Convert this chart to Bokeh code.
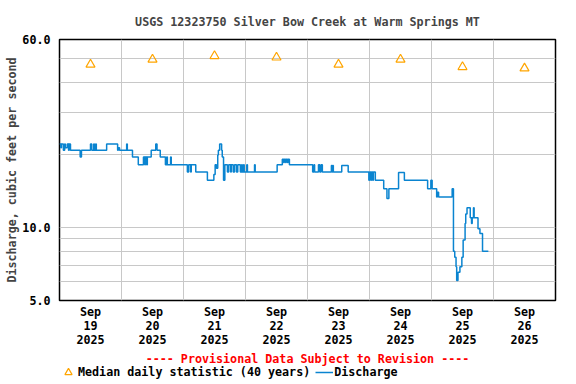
from bokeh.plotting import figure
from bokeh.layouts import column
from bokeh.models import (FixedTicker, NumeralTickFormatter, Legend, LegendItem, Label, ColumnDataSource)
from bokeh.embed import file_html
from bokeh.resources import INLINE

# ---- data ----
# hours since 2025-09-19 00:00
tick_hours = [12, 36, 60, 84, 108, 132, 156, 180]
tick_labels = ["Sep\n19\n2025", "Sep\n20\n2025", "Sep\n21\n2025", "Sep\n22\n2025",
               "Sep\n23\n2025", "Sep\n24\n2025", "Sep\n25\n2025", "Sep\n26\n2025"]
day_lines = [24, 48, 72, 96, 120, 144, 168]
y_ticks = [5, 10, 60]
y_grid = [6, 7, 8, 9, 10, 20, 30, 40, 50]

median_hours = [12, 36, 60, 84, 108, 132, 156, 180]
median_cfs = [47.3, 49.6, 51.3, 50.6, 47.3, 49.6, 46.2, 45.6]

q_hours = [0, 0.5, 0.75, 1.5, 2.0, 2.25, 3.0, 3.5, 3.75, 4.25, 8.0, 8.5, 12.0, 12.5, 13.25, 13.5,
           14.0, 14.25, 18.25, 22.5, 22.75, 23.25, 26.0, 26.25, 28.25, 30.5, 32.5, 33.0, 33.25,
           33.75, 34.0, 35.5, 37.25, 37.75, 39.0, 41.0, 41.5, 41.75, 43.0, 43.25, 49.5, 50.0,
           50.75, 51.0, 52.75, 57.25, 59.75, 60.25, 60.75, 61.25, 61.5, 62.0, 62.75, 63.0, 63.5,
           64.0, 65.0, 65.5, 66.25, 66.5, 67.25, 67.75, 68.5, 69.0, 70.0, 70.5, 70.75, 71.25,
           71.5, 72.5, 72.75, 75.5, 75.75, 84.25, 86.25, 86.75, 87.0, 87.5, 87.75, 88.25, 88.5,
           89.0, 98.0, 98.5, 98.75, 100.25, 100.75, 101.25, 101.75, 105.25, 105.5, 105.75, 106.0,
           109.25, 111.75, 119.75, 120.0, 120.5, 120.75, 121.25, 121.5, 122.25, 125.5, 126.75,
           127.5, 131.25, 133.5, 142.5, 143.75, 144.25, 146.0, 146.25, 146.75, 152.0, 152.5,
           153.0, 153.5, 153.75, 154.25, 155.0, 155.75, 156.25, 157.0, 157.25, 157.75, 159.0,
           159.5, 159.75, 160.25, 160.5, 162.0, 162.75, 163.75, 166.0]
q_cfs = [22.2, 21.4, 22.2, 20.9, 22.2, 21.4, 22.2, 20.9, 22.2, 20.9, 19.6, 20.9, 22.2, 20.9, 22.2,
         20.9, 22.2, 20.9, 22.2, 20.9, 21.4, 20.9, 22.2, 20.9, 19.6, 18.2, 19.6, 18.2, 19.6, 18.2,
         19.6, 20.9, 22.2, 20.9, 19.6, 18.2, 19.6, 18.2, 19.6, 18.2, 17.0, 18.2, 17.0, 18.2, 17.0,
         15.7, 16.6, 18.2, 17.6, 20.0, 20.9, 22.2, 20.9, 19.6, 15.7, 18.2, 17.0, 18.2, 17.0, 18.2,
         17.0, 18.2, 17.0, 18.2, 17.0, 18.2, 17.0, 18.2, 17.0, 18.2, 17.0, 18.2, 17.0, 18.2, 19.2,
         18.6, 19.2, 18.6, 19.2, 18.6, 19.2, 18.2, 17.0, 18.2, 17.0, 18.2, 17.0, 18.2, 17.0, 18.1,
         17.0, 18.1, 17.0, 18.1, 17.0, 15.7, 17.0, 15.7, 17.0, 15.7, 17.0, 15.7, 14.5, 13.2, 14.5,
         16.9, 15.7, 14.5, 15.7, 14.5, 13.4, 14.0, 13.4, 14.5, 8.0, 7.55, 6.9, 6.05, 6.55, 6.9,
         7.55, 8.9, 10.4, 11.4, 12.1, 11.0, 10.4, 11.0, 12.1, 11.0, 9.9, 9.46, 8.0, 8.0]

FONT = "DejaVu Sans Mono"
FS = "11.7px"
Q_COLOR = "#0a84d0"
M_COLOR = "#ffa500"

# ---- main chart ----
p = figure(frame_width=496, frame_height=261, x_range=(0, 192), y_range=(5, 60), y_axis_type="log",
           output_backend="svg", toolbar_location=None,
           min_border_left=59, min_border_right=21, min_border_top=39, min_border_bottom=51)
p.background_fill_color = "white"
p.border_fill_color = "white"
p.outline_line_color = "black"
p.outline_line_width = 1.5

p.title.text = "USGS 12323750 Silver Bow Creek at Warm Springs MT"
p.title.align = "center"
p.title.text_font = FONT
p.title.text_font_size = FS
p.title.text_font_style = "bold"
p.title.standoff = 22

xa = p.xaxis[0]
xa.ticker = FixedTicker(ticks=tick_hours)
xa.major_label_overrides = {h: lab for h, lab in zip(tick_hours, tick_labels)}
xa.major_tick_line_color = None
xa.minor_tick_line_color = None
xa.axis_line_color = None
xa.major_tick_out = 0
xa.major_label_standoff = 4
xa.major_label_text_font = FONT
xa.major_label_text_font_size = FS
xa.major_label_text_font_style = "bold"
xa.major_label_text_color = "black"
xa.major_label_text_line_height = 1.0

ya = p.yaxis[0]
ya.ticker = FixedTicker(ticks=y_ticks)
ya.formatter = NumeralTickFormatter(format="0.0")
ya.major_tick_line_color = None
ya.minor_tick_line_color = None
ya.axis_line_color = None
ya.major_tick_out = 0
ya.major_label_standoff = 9
ya.major_label_text_font = FONT
ya.major_label_text_font_size = FS
ya.major_label_text_font_style = "bold"
ya.major_label_text_color = "black"
ya.axis_label = "Discharge, cubic feet per second"
ya.axis_label_text_font = FONT
ya.axis_label_text_font_size = FS
ya.axis_label_text_font_style = "bold"
ya.axis_label_standoff = 0

p.xgrid.ticker = FixedTicker(ticks=day_lines)
p.ygrid.ticker = FixedTicker(ticks=y_grid)
for g in (p.xgrid[0], p.ygrid[0]):
    g.grid_line_color = "#c8c8c8"
    g.grid_line_width = 1

src_q = ColumnDataSource(dict(hours=q_hours, cfs=q_cfs))
src_m = ColumnDataSource(dict(hours=median_hours, cfs=median_cfs))
p.step("hours", "cfs", source=src_q, mode="after", line_color=Q_COLOR, line_width=1.5)
p.scatter("hours", "cfs", source=src_m, marker="triangle", size=9,
          fill_color=None, line_color=M_COLOR, line_width=1.2)

# ---- footer strip: provisional note + legend ----
# (its ranges exclude the data, so the renderers here only feed the legend swatches)
strip = figure(width=576, height=33, x_range=(0, 1), y_range=(0, 1),
               output_backend="svg", toolbar_location=None,
               x_axis_location=None, y_axis_location=None,
               min_border_left=0, min_border_right=0, min_border_top=0, min_border_bottom=0)
strip.outline_line_color = None
strip.grid.visible = False
strip.background_fill_color = "white"
strip.border_fill_color = "white"

strip.add_layout(Label(x=248, y=26, x_units="screen", y_units="screen",
                       text="---- Provisional Data Subject to Revision ----",
                       text_align="center", text_baseline="middle",
                       text_color="#ff0000", text_font=FONT, text_font_size=FS,
                       text_font_style="bold"))

lm = strip.scatter("hours", "cfs", source=src_m, marker="triangle", fill_color=None,
                   line_color=M_COLOR, line_width=1.2)
lq = strip.step("hours", "cfs", source=src_q, mode="after", line_color=Q_COLOR, line_width=1.5)

legend = Legend(items=[LegendItem(label="Median daily statistic (40 years)", renderers=[lm]),
                       LegendItem(label="Discharge", renderers=[lq])],
                orientation="horizontal", location=(0, 2))
legend.border_line_color = None
legend.background_fill_alpha = 0
legend.padding = 0
legend.margin = 0
legend.spacing = 5
legend.glyph_width = 18
legend.glyph_height = 20
legend.label_height = 20
legend.label_standoff = 1
legend.label_text_font = FONT
legend.label_text_font_size = FS
legend.label_text_font_style = "bold"
legend.label_text_color = "black"
strip.add_layout(legend, "center")

layout = column(p, strip, spacing=0)
open("out.html", "w").write(file_html(layout, INLINE))
